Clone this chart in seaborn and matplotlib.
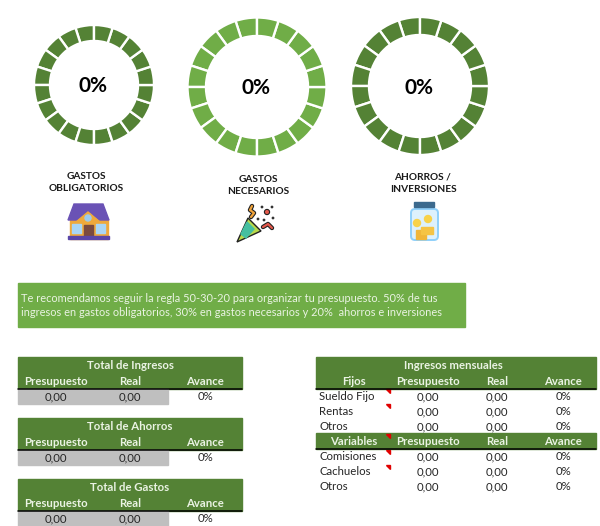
import matplotlib
matplotlib.use('Agg')
import matplotlib.pyplot as plt
from matplotlib.patches import Rectangle, Polygon, Circle, FancyBboxPatch
import seaborn as sns

# data
ring_labels = [['GASTOS', 'OBLIGATORIOS'], ['GASTOS', 'NECESARIOS'], ['AHORROS /', 'INVERSIONES']]
ring_pcts = ['0%', '0%', '0%']
ring_segments = [1] * 20
summary_titles = ['Total de Ingresos', 'Total de Ahorros', 'Total de Gastos']
col_names = ['Presupuesto', 'Real', 'Avance']
summary_values = ['0,00', '0,00', '0%']
fijos_rows = ['Sueldo Fijo', 'Rentas', 'Otros']
variables_rows = ['Comisiones', 'Cachuelos', 'Otros']
income_values = ['0,00', '0,00', '0%']
note_lines = ['Te recomendamos seguir la regla 50-30-20 para organizar tu presupuesto. 50% de tus',
              'ingresos en gastos obligatorios, 30% en gastos necesarios y 20%  ahorros e inversiones']

DARK = '#548235'
LIGHT = '#70AD47'
W, H = 600, 526

sns.set_theme(style='white')
plt.rcParams['font.family'] = ['Lato', 'DejaVu Sans']

fig = plt.figure(figsize=(W / 100, H / 100), dpi=100)

# rings, one small axes each
ring_geo = [(94, 85, 60, 44, DARK, 86, 175), (257, 87, 69.5, 51, LIGHT, 258, 178), (420, 86, 69, 51, DARK, 423, 176)]
for (cx, cy, ro, ri, col, lx, ly), pct in zip(ring_geo, ring_pcts):
    ax = fig.add_axes([(cx - ro) / W, 1 - (cy + ro) / H, 2 * ro / W, 2 * ro / H])
    ax.pie(ring_segments, colors=[col] * len(ring_segments), startangle=90, radius=1,
           wedgeprops=dict(width=(ro - ri) / ro, edgecolor='white', linewidth=1.7))
    ax.set_xlim(-1, 1)
    ax.set_ylim(-1, 1)
    ax.axis('off')

# everything else in pixel coords
ov = fig.add_axes([0, 0, 1, 1], zorder=5)
ov.set_xlim(0, W)
ov.set_ylim(H, 0)
ov.axis('off')
ov.patch.set_alpha(0)


def txt(x, y, s, size=8.2, color='#262626', ha='center', weight='normal'):
    # baseline anchor so that rows line up whatever the letters are
    ov.text(x, y + size * 0.5, s, fontsize=size, color=color, ha=ha, va='baseline', fontweight=weight)


for (cx, cy, ro, ri, col, lx, ly), pct, lab in zip(ring_geo, ring_pcts, ring_labels):
    txt(cx - 1, cy, pct, size=15, color='black', weight='bold')
    txt(lx, ly, lab[0], size=7.3, color='#1a1a1a', weight='bold')
    txt(lx, ly + 12, lab[1], size=7.3, color='#1a1a1a', weight='bold')

# house icon
ov.add_patch(Rectangle((70, 219), 38, 20, color='#EFA93B'))
ov.add_patch(Polygon([[74, 204], [103, 204], [109, 220], [99, 220], [88, 211], [78, 220], [68, 220]], color='#6A52B5'))
ov.add_patch(Polygon([[76, 222], [88, 212], [100, 222], [100, 224], [76, 224]], color='#EFA93B'))
ov.add_patch(Circle((88, 218), 3, color='#9CCBEF'))
ov.add_patch(Rectangle((84, 225), 9, 13, color='#7A4A3F'))
ov.add_patch(Rectangle((72, 224), 9, 9, color='#A9D6F5'))
ov.add_patch(Rectangle((96, 224), 9, 9, color='#A9D6F5'))
ov.add_patch(Rectangle((68, 236), 41, 3, color='#5A46A8'))

# party popper icon
ov.add_patch(Polygon([[237, 242], [248, 218], [261, 231]], facecolor='#B7D84B', edgecolor='#222222', lw=1))
ov.add_patch(Polygon([[241, 234], [247, 222], [254, 229], [246, 238]], color='#45BFA0'))
ov.plot([252, 250, 254, 251], [206, 210, 213, 217], color='#222222', lw=3.2, solid_capstyle='round')
ov.plot([252, 250, 254, 251], [206, 210, 213, 217], color='#F0A33A', lw=1.6, solid_capstyle='round')
ov.plot([263, 268, 272], [227, 224, 228], color='#222222', lw=3.2, solid_capstyle='round')
ov.plot([263, 268, 272], [227, 224, 228], color='#E4584B', lw=1.6, solid_capstyle='round')
ov.add_patch(Circle((267, 212), 2.6, facecolor='#E4584B', edgecolor='#222222', lw=0.8))
for dx, dy in [(262, 207), (272, 207), (258, 219), (264, 220), (273, 218)]:
    ov.add_patch(Circle((dx, dy), 0.7, color='#333333'))

# jar icon
ov.add_patch(FancyBboxPatch((412, 210), 25, 29, boxstyle='round,pad=1,rounding_size=4',
                            facecolor='#DDF1FD', edgecolor='#8FD0FA', lw=1.4))
ov.add_patch(Rectangle((414, 202), 20, 5, color='#3C6A8E'))
ov.add_patch(Circle((417, 223), 3.5, color='#F8D24A'))
ov.add_patch(Circle((428, 219), 3.5, color='#F8D24A'))
ov.add_patch(Rectangle((416, 230), 10, 9, color='#F0B63A'))
ov.add_patch(Rectangle((421, 227), 12, 7, color='#F5C445'))

# green note box
ov.add_patch(Rectangle((18, 283), 447, 44, color=LIGHT))
txt(21, 298, note_lines[0], size=7.9, color='#EAF3E3', ha='left')
txt(21, 312, note_lines[1], size=7.9, color='#EAF3E3', ha='left')

# left tables
col_x = [56, 130, 205]
for top, title in zip([357, 418, 479], summary_titles):
    ov.add_patch(Rectangle((18, top), 224, 32, color=DARK))
    ov.plot([18, 242], [top + 31.5, top + 31.5], color='black', lw=1.1)
    ov.add_patch(Rectangle((18, top + 32), 150, 15, color='#BFBFBF'))
    txt(130, top + 8, title, color='#EAF3E3', weight='bold')
    for x, name, val in zip(col_x, col_names, summary_values):
        txt(x, top + 24, name, color='#EAF3E3', weight='bold')
        txt(x, top + 39, val)

# right table
ov.add_patch(Rectangle((316, 357), 280, 32, color=DARK))
ov.plot([316, 596], [388.5, 388.5], color='black', lw=1.1)
ov.add_patch(Rectangle((316, 433), 280, 16, color=DARK))
ov.plot([316, 596], [448.5, 448.5], color='black', lw=1.1)
txt(453, 365, 'Ingresos mensuales', color='#EAF3E3', weight='bold')
right_x = [428, 497, 563]
for y, head, rows in [(381, 'Fijos', fijos_rows), (441, 'Variables', variables_rows)]:
    txt(354, y, head, color='#EAF3E3', weight='bold')
    for x, name in zip(right_x, col_names):
        txt(x, y, name, color='#EAF3E3', weight='bold')
    for i, r in enumerate(rows):
        ry = y + 15 + 15 * i
        txt(319, ry, r, ha='left')
        for x, val in zip(right_x, income_values):
            txt(x, ry, val)

# comment markers
for y in [389, 404, 434, 450, 465]:
    ov.add_patch(Polygon([[386, y], [390, y], [390, y + 4]], color='#E00000'))

plt.savefig('out.png', dpi=100)
plt.close()
